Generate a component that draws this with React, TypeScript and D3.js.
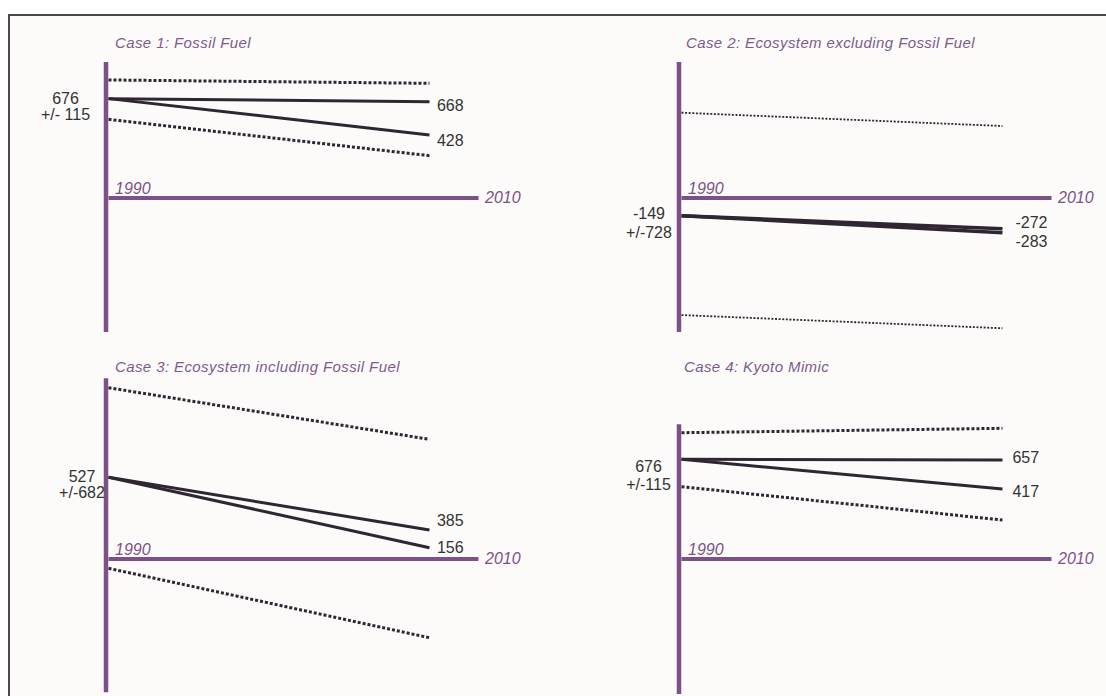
import React from 'react';
import * as d3 from 'd3';

// values (chart units, 0 = the horizontal axis)
const panelTitles = [
  'Case 1: Fossil Fuel',
  'Case 2: Ecosystem excluding Fossil Fuel',
  'Case 3: Ecosystem including Fossil Fuel',
  'Case 4: Kyoto Mimic',
];
const startYear = 1990;
const endYear = 2010;
const lineEndYear = 2007.35;

const startLabels = ['676', '-149', '527', '676'];
const spreadLabels = ['+/- 115', '+/-728', '+/-682', '+/-115'];
const endLabelsHigh = ['668', '-272', '385', '657'];
const endLabelsLow = ['428', '-283', '156', '417'];

const centralStart = [676, -150, 527, 678];
const highEnd = [655, -260, 187, 673];
const lowEnd = [429, -294, 73, 476];
const upperStart = [803, 723, 1105, 859];
const upperEnd = [780, 610, 772, 889];
const lowerStart = [535, -992, -60, 492];
const lowerEnd = [288, -1104, -508, 265];
const axisTop = [925, 1153, 1166, 916];
const axisBottom = [-912, -1136, -860, -918];

// layout (pixels)
const W = 1106;
const H = 696;
const colAxisX = [106, 679, 106, 679];
const rowZeroY = [198, 198, 559, 559];
const titleY = [47.5, 47.5, 372.3, 372.3];
const titleX = [115, 686, 115, 684];
const pxPerUnit = [0.147, 0.118, 0.155, 0.147];
const startLabelX = [65.5, 649, 82, 648.5];
const startLabelDy = [5.7, 3.3, 4.4, 13];
const startLabelGap = [16, 18.5, 16.6, 17.7];
const endLabelDx = [7.5, 13, 7.5, 10];
const endLabelDyHigh = [9.3, -1, -4.3, 3.3];
const endLabelDyLow = [11, 14, 5.6, 7.7];

const purple = '#7b5188';
const titleColor = '#7d5b8c';
const ink = '#2f2632';
const textColor = '#333333';
const font = '"Liberation Sans", Arial, Helvetica, sans-serif';

function Panel({ i }: { i: number }) {
  const ax = colAxisX[i];
  const zero = rowZeroY[i];
  const x = d3.scaleLinear().domain([startYear, endYear]).range([ax + 2.5, ax + 372.5]);
  const y = d3.scaleLinear().domain([0, 1000]).range([zero, zero - pxPerUnit[i] * 1000]);
  const line = d3.line<[number, number]>().x(d => x(d[0])).y(d => y(d[1]));

  const thin = i === 1;
  const dotted = {
    stroke: ink,
    strokeWidth: thin ? 1.8 : 3,
    strokeDasharray: thin ? '2 1.6' : '3 2',
    fill: 'none',
  };
  const solid = { stroke: ink, strokeWidth: thin ? 3.5 : 3, fill: 'none' };

  const xEnd = x(lineEndYear);
  return (
    <g>
      <text x={titleX[i]} y={titleY[i]} fill={titleColor} fontSize={15} fontStyle="italic"
        letterSpacing={0.4} fontFamily={font}>{panelTitles[i]}</text>

      {/* axes */}
      <line x1={ax} x2={ax} y1={y(axisTop[i])} y2={y(axisBottom[i])} stroke={purple} strokeWidth={4.5} />
      <line x1={x(startYear)} x2={x(endYear)} y1={y(0)} y2={y(0)} stroke={purple} strokeWidth={4} />
      <text x={ax + 9} y={zero - 4} fill={purple} fontSize={16} fontStyle="italic" fontFamily={font}>{startYear}</text>
      <text x={x(endYear) + 6.5} y={zero + 5} fill={purple} fontSize={16} fontStyle="italic" fontFamily={font}>{endYear}</text>

      {/* bounds */}
      <path d={line([[startYear, upperStart[i]], [lineEndYear, upperEnd[i]]])!} {...dotted} />
      <path d={line([[startYear, lowerStart[i]], [lineEndYear, lowerEnd[i]]])!} {...dotted} />

      {/* scenarios */}
      <path d={line([[startYear, centralStart[i]], [lineEndYear, highEnd[i]]])!} {...solid} />
      <path d={line([[startYear, centralStart[i]], [lineEndYear, lowEnd[i]]])!} {...solid} />

      {/* labels */}
      <g fontFamily={font} fontSize={16} fill={textColor}>
        <text x={startLabelX[i]} y={y(centralStart[i]) + startLabelDy[i]} textAnchor="middle">{startLabels[i]}</text>
        <text x={startLabelX[i]} y={y(centralStart[i]) + startLabelDy[i] + startLabelGap[i]} textAnchor="middle">{spreadLabels[i]}</text>
        <text x={xEnd + endLabelDx[i]} y={y(highEnd[i]) + endLabelDyHigh[i]}>{endLabelsHigh[i]}</text>
        <text x={xEnd + endLabelDx[i]} y={y(lowEnd[i]) + endLabelDyLow[i]}>{endLabelsLow[i]}</text>
      </g>
    </g>
  );
}

export default function App() {
  return (
    <svg width={W} height={H} style={{ position: 'absolute', left: 0, top: 0, background: '#ffffff' }}>
      <rect x={9} y={15} width={W + 20} height={H + 20} fill="#fcfbfa" stroke="#4d474b" strokeWidth={2} />
      {panelTitles.map((_, i) => <Panel key={i} i={i} />)}
    </svg>
  );
}
